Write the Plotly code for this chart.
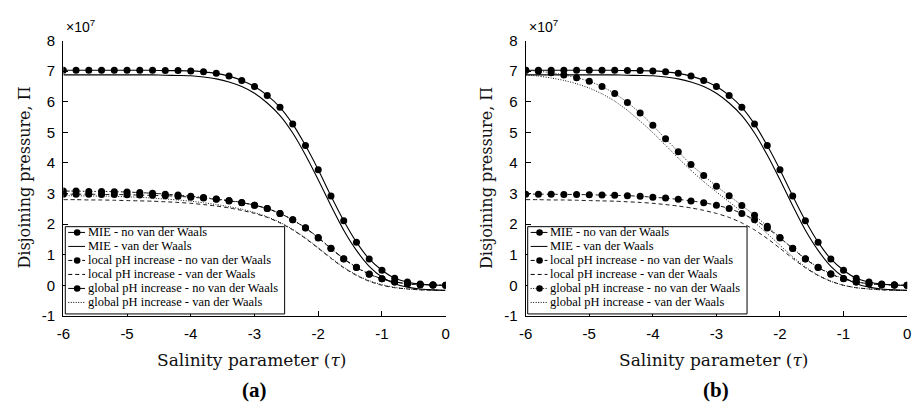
import plotly.graph_objects as go

# Salinity parameter tau, step 0.2 from -6 to 0
tau = [round(-6 + 0.2 * i, 1) for i in range(31)]

# Disjoining pressure values in units of 1e7
mie_novdw = [7.03, 7.03, 7.03, 7.03, 7.03, 7.03, 7.03, 7.03, 7.02, 7.02, 7.01,
             6.98, 6.93, 6.84, 6.70, 6.50, 6.21, 5.82, 5.27, 4.57, 3.78,
             2.92, 2.11, 1.41, 0.86, 0.49, 0.23, 0.11, 0.04, 0.01, 0.00]
mie_vdw = [6.88, 6.88, 6.88, 6.88, 6.88, 6.88, 6.88, 6.88, 6.87, 6.86, 6.85,
           6.81, 6.75, 6.65, 6.50, 6.28, 5.96, 5.55, 4.98, 4.26, 3.45,
           2.60, 1.80, 1.14, 0.62, 0.27, 0.05, -0.06, -0.12, -0.15, -0.16]
local_novdw = [2.98, 2.98, 2.98, 2.97, 2.97, 2.96, 2.95, 2.94, 2.93, 2.91, 2.88,
               2.85, 2.81, 2.76, 2.70, 2.62, 2.51, 2.35, 2.14, 1.87, 1.55,
               1.20, 0.86, 0.58, 0.36, 0.21, 0.11, 0.05, 0.02, 0.01, 0.00]
local_vdw = [2.80, 2.80, 2.79, 2.79, 2.78, 2.77, 2.76, 2.75, 2.73, 2.71, 2.68,
             2.64, 2.59, 2.53, 2.45, 2.35, 2.22, 2.04, 1.81, 1.53, 1.21,
             0.88, 0.57, 0.32, 0.13, 0.00, -0.08, -0.12, -0.15, -0.16, -0.17]
global_a_novdw = [3.08, 3.08, 3.07, 3.07, 3.06, 3.05, 3.03, 3.01, 2.98, 2.95, 2.91,
                  2.87, 2.82, 2.77, 2.71, 2.62, 2.51, 2.35, 2.14, 1.88, 1.56,
                  1.21, 0.87, 0.59, 0.37, 0.21, 0.11, 0.05, 0.02, 0.01, 0.00]
global_a_vdw = [2.93, 2.93, 2.92, 2.92, 2.91, 2.89, 2.88, 2.85, 2.82, 2.79, 2.75,
                2.70, 2.64, 2.57, 2.49, 2.38, 2.24, 2.06, 1.83, 1.55, 1.23,
                0.90, 0.59, 0.34, 0.15, 0.02, -0.07, -0.12, -0.15, -0.16, -0.17]
global_b_novdw = [7.03, 7.00, 6.95, 6.88, 6.79, 6.67, 6.50, 6.27, 5.98, 5.63, 5.23,
                  4.79, 4.37, 3.95, 3.59, 3.24, 2.93, 2.61, 2.29, 1.93, 1.56,
                  1.21, 0.87, 0.59, 0.38, 0.22, 0.11, 0.05, 0.02, 0.01, 0.00]
global_b_vdw = [6.88, 6.84, 6.78, 6.70, 6.59, 6.45, 6.26, 6.02, 5.72, 5.37, 4.99,
                4.58, 4.16, 3.76, 3.39, 3.05, 2.73, 2.40, 2.06, 1.69, 1.31,
                0.93, 0.60, 0.33, 0.13, 0.00, -0.08, -0.12, -0.15, -0.16, -0.17]

x_ticks = [-6, -5, -4, -3, -2, -1, 0]
x_ticktext = ["-6", "-5", "-4", "-3", "-2", "-1", "0"]
y_ticks = [-1, 0, 1, 2, 3, 4, 5, 6, 7, 8]
y_ticktext = ["-1", "0", "1", "2", "3", "4", "5", "6", "7", "8"]

labels = ["MIE - no van der Waals", "MIE - van der Waals",
          "local pH increase - no van der Waals", "local pH increase - van der Waals",
          "global pH increase - no van der Waals", "global pH increase - van der Waals"]

SERIF = "Liberation Serif"
TITLE_SERIF = "DejaVu Serif"
SANS = "Liberation Sans"
W, H = 920, 414

DASH = "4px,3px"
DASHDOT = "6px,2px,1.5px,2px"
DOT = "1px,1.5px"

fig = go.Figure()

panels = [
    ("x", "y", [mie_novdw, mie_vdw, local_novdw, local_vdw, global_a_novdw, global_a_vdw],
     ["solid", "solid", DASH, DASH, DASHDOT, DOT]),
    ("x2", "y2", [mie_novdw, mie_vdw, local_novdw, local_vdw, global_b_novdw, global_b_vdw],
     ["solid", "solid", DASH, DASH, DOT, DOT]),
]
for xa, ya, series, dashes in panels:
    for i, (s, d) in enumerate(zip(series, dashes)):
        marker = i % 2 == 0
        fig.add_trace(go.Scatter(
            x=tau, y=s, name=labels[i], xaxis=xa, yaxis=ya,
            mode="lines+markers" if marker else "lines",
            line=dict(color="black", width=1.1 if i < 2 else 0.9, dash=d,
                      shape="spline", smoothing=0.6),
            marker=dict(color="black", size=7, symbol="circle"),
            showlegend=False))

# geometry
y_top, y_bot = 33, 320
doms = [(57, 444), (525, 911)]

axis_common = dict(showgrid=False, zeroline=False, showline=True, linecolor="black", linewidth=1.3,
                   ticks="inside", ticklen=5, tickwidth=1.2, tickcolor="black",
                   ticklabelstandoff=4,
                   tickfont=dict(family=SANS, size=15, color="black"))

shapes = []
annotations = []
layout = dict(width=W, height=H, margin=dict(l=0, r=0, t=0, b=0), showlegend=False,
              paper_bgcolor="white", plot_bgcolor="white")

def px(x):
    return x / W

def py(y):
    return 1 - y / H

for k, (x0, x1) in enumerate(doms):
    sfx = "" if k == 0 else "2"
    layout["xaxis" + sfx] = dict(domain=[x0 / W, x1 / W], range=[-6, 0], tickvals=x_ticks,
                                 ticktext=x_ticktext, anchor="y" + sfx, **axis_common)
    layout["yaxis" + sfx] = dict(domain=[1 - y_bot / H, 1 - y_top / H], range=[-1, 8], tickvals=y_ticks,
                                 ticktext=y_ticktext, anchor="x" + sfx, **axis_common)
    # manual legend box
    bx0, bx1, by0, by1 = x0 + 2, x0 + 224, 227, 318
    shapes.append(dict(type="rect", xref="paper", yref="paper", x0=px(bx0), x1=px(bx1),
                       y0=py(by1), y1=py(by0), line=dict(color="black", width=1),
                       fillcolor="white", layer="above"))
    dashes = panels[k][3]
    for i in range(6):
        yc = 233 + i * 14.6
        shapes.append(dict(type="line", xref="paper", yref="paper", x0=px(bx0 + 3), x1=px(bx0 + 20),
                           y0=py(yc), y1=py(yc),
                           line=dict(color="black", width=1, dash=dashes[i]), layer="above"))
        if i % 2 == 0:
            shapes.append(dict(type="circle", xref="paper", yref="paper",
                               xsizemode="pixel", ysizemode="pixel",
                               xanchor=px(bx0 + 12), yanchor=py(yc), x0=-3.3, x1=3.3, y0=-3.3, y1=3.3,
                               fillcolor="black", line=dict(color="black", width=0), layer="above"))
        annotations.append(dict(text=labels[i], x=px(bx0 + 21), y=py(yc), xref="paper", yref="paper",
                                xanchor="left", yanchor="middle", showarrow=False,
                                font=dict(family=SERIF, size=12.5, color="black")))
    cx = (x0 + x1) / 2
    annotations += [
        dict(text="×10<sup>7</sup>", x=px(x0 + 1), y=py(18), xref="paper", yref="paper",
             xanchor="left", yanchor="middle", showarrow=False,
             font=dict(family=SANS, size=14, color="black")),
        dict(text="Salinity parameter (<i>τ</i>)", x=px(cx - 3), y=py(366), xref="paper", yref="paper",
             xanchor="center", yanchor="middle", showarrow=False,
             font=dict(family=TITLE_SERIF, size=17, color="#111")),
        dict(text="Disjoining pressure, Π", x=px(x0 - 39), y=py(176), xref="paper", yref="paper",
             xanchor="center", yanchor="middle", showarrow=False, textangle=-90,
             font=dict(family=TITLE_SERIF, size=16, color="#111")),
        dict(text="<b>(" + "ab"[k] + ")</b>", x=px(cx), y=py(397), xref="paper", yref="paper",
             xanchor="center", yanchor="middle", showarrow=False,
             font=dict(family=SERIF, size=21, color="black")),
    ]

layout["shapes"] = shapes
layout["annotations"] = annotations
fig.update_layout(**layout)
fig.write_html("out.html")
